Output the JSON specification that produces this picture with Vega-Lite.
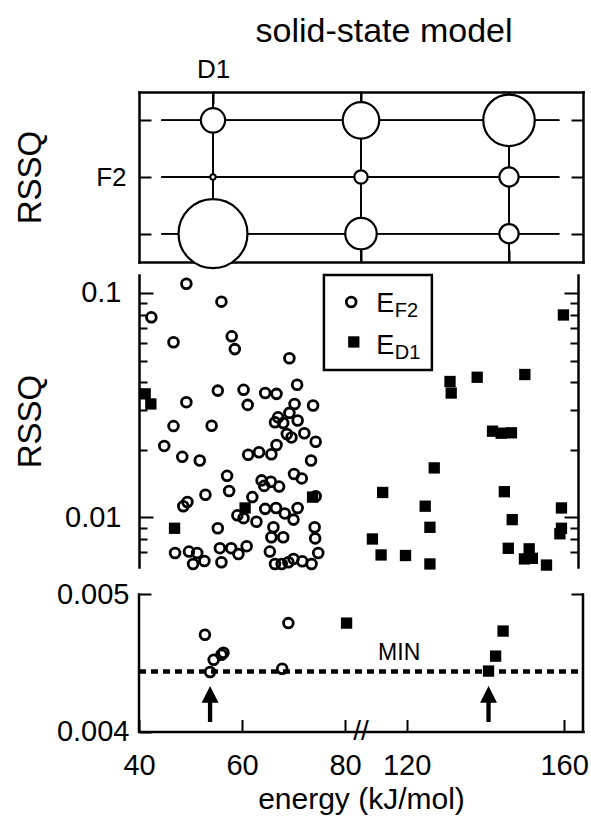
{
  "$schema": "https://vega.github.io/schema/vega-lite/v6.json",
  "padding": {"left": 14, "top": 15, "right": 2, "bottom": 2},
  "spacing": 0,
  "config": {
    "font": "Liberation Sans",
    "view": {"stroke": null},
    "axis": {"grid": false, "domainColor": "black", "domainWidth": 2.5, "domainCap": "square", "tickColor": "black", "tickWidth": 2, "labelColor": "black", "labelFont": "Liberation Sans", "labelFontSize": 29, "titleColor": "black", "titleFont": "Liberation Sans", "titleFontWeight": "normal", "labelOverlap": false, "labelFlush": false},
    "title": {"font": "Liberation Sans", "fontWeight": "normal", "color": "black"}
  },
  "datasets": {
    "grid": [
      {"col": 1, "row": 3, "rel": 5.9}, {"col": 1, "row": 2, "rel": 0.3}, {"col": 1, "row": 1, "rel": 47.5},
      {"col": 2, "row": 3, "rel": 13.3}, {"col": 2, "row": 2, "rel": 1.8}, {"col": 2, "row": 1, "rel": 9.9},
      {"col": 3, "row": 3, "rel": 26.5}, {"col": 3, "row": 2, "rel": 3.7}, {"col": 3, "row": 1, "rel": 3.7}
    ],
    "pts": [
      {"series": "F2", "energy": 49.2, "rssq": 0.110}, {"series": "F2", "energy": 56.0, "rssq": 0.0915},
      {"series": "F2", "energy": 42.4, "rssq": 0.0779}, {"series": "F2", "energy": 46.7, "rssq": 0.0603},
      {"series": "F2", "energy": 58.0, "rssq": 0.0641}, {"series": "F2", "energy": 58.6, "rssq": 0.0562},
      {"series": "F2", "energy": 55.3, "rssq": 0.0367}, {"series": "F2", "energy": 49.2, "rssq": 0.0326},
      {"series": "F2", "energy": 46.7, "rssq": 0.0255}, {"series": "F2", "energy": 54.1, "rssq": 0.0256},
      {"series": "F2", "energy": 44.9, "rssq": 0.0208}, {"series": "F2", "energy": 48.4, "rssq": 0.0186},
      {"series": "F2", "energy": 51.8, "rssq": 0.0179}, {"series": "F2", "energy": 57.1, "rssq": 0.0153},
      {"series": "F2", "energy": 57.5, "rssq": 0.0131}, {"series": "F2", "energy": 52.9, "rssq": 0.0126},
      {"series": "F2", "energy": 49.4, "rssq": 0.0117}, {"series": "F2", "energy": 48.6, "rssq": 0.0112},
      {"series": "F2", "energy": 55.3, "rssq": 0.00893}, {"series": "F2", "energy": 47.0, "rssq": 0.00693},
      {"series": "F2", "energy": 49.7, "rssq": 0.00703}, {"series": "F2", "energy": 51.3, "rssq": 0.00693},
      {"series": "F2", "energy": 50.5, "rssq": 0.00619}, {"series": "F2", "energy": 52.7, "rssq": 0.00638},
      {"series": "F2", "energy": 55.7, "rssq": 0.00728}, {"series": "F2", "energy": 57.9, "rssq": 0.00728},
      {"series": "F2", "energy": 56.0, "rssq": 0.0063}, {"series": "F2", "energy": 59.1, "rssq": 0.0102},
      {"series": "F2", "energy": 69.2, "rssq": 0.0512}, {"series": "F2", "energy": 70.7, "rssq": 0.0390},
      {"series": "F2", "energy": 60.3, "rssq": 0.0370}, {"series": "F2", "energy": 61.1, "rssq": 0.0317},
      {"series": "F2", "energy": 64.5, "rssq": 0.0358}, {"series": "F2", "energy": 66.7, "rssq": 0.0355},
      {"series": "F2", "energy": 70.2, "rssq": 0.0320}, {"series": "F2", "energy": 73.8, "rssq": 0.0315},
      {"series": "F2", "energy": 67.0, "rssq": 0.0279}, {"series": "F2", "energy": 69.2, "rssq": 0.0292},
      {"series": "F2", "energy": 66.4, "rssq": 0.0265}, {"series": "F2", "energy": 68.0, "rssq": 0.0263},
      {"series": "F2", "energy": 70.8, "rssq": 0.0270}, {"series": "F2", "energy": 68.7, "rssq": 0.0235},
      {"series": "F2", "energy": 69.6, "rssq": 0.0227}, {"series": "F2", "energy": 72.1, "rssq": 0.0237},
      {"series": "F2", "energy": 74.3, "rssq": 0.0217}, {"series": "F2", "energy": 66.7, "rssq": 0.0210},
      {"series": "F2", "energy": 61.2, "rssq": 0.0190}, {"series": "F2", "energy": 63.3, "rssq": 0.0195},
      {"series": "F2", "energy": 65.7, "rssq": 0.0191}, {"series": "F2", "energy": 73.4, "rssq": 0.0179},
      {"series": "F2", "energy": 70.1, "rssq": 0.0156}, {"series": "F2", "energy": 71.6, "rssq": 0.0149},
      {"series": "F2", "energy": 63.8, "rssq": 0.0146}, {"series": "F2", "energy": 64.3, "rssq": 0.0138},
      {"series": "F2", "energy": 65.6, "rssq": 0.0144}, {"series": "F2", "energy": 67.2, "rssq": 0.0137},
      {"series": "F2", "energy": 62.0, "rssq": 0.0123}, {"series": "F2", "energy": 64.5, "rssq": 0.0109},
      {"series": "F2", "energy": 66.6, "rssq": 0.0110}, {"series": "F2", "energy": 68.3, "rssq": 0.0104},
      {"series": "F2", "energy": 70.0, "rssq": 0.00976}, {"series": "F2", "energy": 70.8, "rssq": 0.0110},
      {"series": "F2", "energy": 62.8, "rssq": 0.00955}, {"series": "F2", "energy": 60.3, "rssq": 0.00991},
      {"series": "F2", "energy": 66.1, "rssq": 0.00902}, {"series": "F2", "energy": 65.7, "rssq": 0.00814},
      {"series": "F2", "energy": 68.0, "rssq": 0.00814}, {"series": "F2", "energy": 74.1, "rssq": 0.00902},
      {"series": "F2", "energy": 74.2, "rssq": 0.00805}, {"series": "F2", "energy": 74.8, "rssq": 0.00693},
      {"series": "F2", "energy": 65.4, "rssq": 0.00703}, {"series": "F2", "energy": 60.9, "rssq": 0.00743},
      {"series": "F2", "energy": 59.3, "rssq": 0.00686}, {"series": "F2", "energy": 66.4, "rssq": 0.00619},
      {"series": "F2", "energy": 67.7, "rssq": 0.00619}, {"series": "F2", "energy": 69.0, "rssq": 0.0063},
      {"series": "F2", "energy": 70.0, "rssq": 0.00652}, {"series": "F2", "energy": 71.7, "rssq": 0.00636},
      {"series": "F2", "energy": 73.5, "rssq": 0.00619}, {"series": "F2", "energy": 74.3, "rssq": 0.0124},
      {"series": "F2", "energy": 52.8, "rssq": 0.004706}, {"series": "F2", "energy": 54.5, "rssq": 0.004523},
      {"series": "F2", "energy": 56.0, "rssq": 0.00456}, {"series": "F2", "energy": 56.4, "rssq": 0.004575},
      {"series": "F2", "energy": 53.8, "rssq": 0.004434}, {"series": "F2", "energy": 67.8, "rssq": 0.004458},
      {"series": "F2", "energy": 69.0, "rssq": 0.004791},
      {"series": "D1", "energy": 41.2, "rssq": 0.0355}, {"series": "D1", "energy": 42.3, "rssq": 0.0320},
      {"series": "D1", "energy": 46.9, "rssq": 0.00893}, {"series": "D1", "energy": 60.6, "rssq": 0.0110},
      {"series": "D1", "energy": 73.7, "rssq": 0.0123}, {"series": "D1", "energy": 159.8, "rssq": 0.0798},
      {"series": "D1", "energy": 131.0, "rssq": 0.0403}, {"series": "D1", "energy": 131.3, "rssq": 0.0358},
      {"series": "D1", "energy": 137.9, "rssq": 0.0421}, {"series": "D1", "energy": 150.0, "rssq": 0.0433},
      {"series": "D1", "energy": 141.8, "rssq": 0.0242}, {"series": "D1", "energy": 144.0, "rssq": 0.0237},
      {"series": "D1", "energy": 146.6, "rssq": 0.0238}, {"series": "D1", "energy": 127.0, "rssq": 0.0166},
      {"series": "D1", "energy": 113.9, "rssq": 0.0129}, {"series": "D1", "energy": 144.8, "rssq": 0.0130},
      {"series": "D1", "energy": 124.7, "rssq": 0.0112}, {"series": "D1", "energy": 159.3, "rssq": 0.0110},
      {"series": "D1", "energy": 125.9, "rssq": 0.00902}, {"series": "D1", "energy": 146.8, "rssq": 0.00976},
      {"series": "D1", "energy": 111.3, "rssq": 0.0080}, {"series": "D1", "energy": 159.3, "rssq": 0.00893},
      {"series": "D1", "energy": 158.9, "rssq": 0.00844}, {"series": "D1", "energy": 113.5, "rssq": 0.00679},
      {"series": "D1", "energy": 119.7, "rssq": 0.00675}, {"series": "D1", "energy": 125.9, "rssq": 0.00619},
      {"series": "D1", "energy": 145.8, "rssq": 0.00727}, {"series": "D1", "energy": 151.1, "rssq": 0.00723},
      {"series": "D1", "energy": 149.9, "rssq": 0.00652}, {"series": "D1", "energy": 151.9, "rssq": 0.00656},
      {"series": "D1", "energy": 155.5, "rssq": 0.00612},
      {"series": "D1", "energy": 80.3, "rssq": 0.004791}, {"series": "D1", "energy": 144.5, "rssq": 0.004733},
      {"series": "D1", "energy": 142.6, "rssq": 0.00455}, {"series": "D1", "energy": 140.8, "rssq": 0.004441}
    ]
  },
  "vconcat": [
    {
      "width": 444,
      "height": 170,
      "title": {"text": "solid-state model", "fontSize": 34, "fontWeight": "normal", "anchor": "middle", "frame": "group", "dx": 23, "offset": 7},
      "data": {"name": "grid"},
      "resolve": {"axis": {"x": "independent", "y": "independent"}},
      "layer": [
        {
          "mark": {"type": "rule", "color": "black", "strokeWidth": 1.5},
          "encoding": {
            "x": {"field": "col", "type": "quantitative", "scale": {"domain": [0.5, 3.5], "nice": false, "zero": false},
                  "axis": {"orient": "top", "values": [1, 2, 3], "labelExpr": "datum.value == 1 ? 'D1' : ''", "tickSize": -12, "labelPadding": 22, "labelFontSize": 26, "title": null}},
            "y": {"datum": 0.5, "type": "quantitative", "scale": {"domain": [0.5, 3.5], "nice": false, "zero": false}, "axis": null},
            "y2": {"datum": 3.5}
          }
        },
        {
          "mark": {"type": "rule", "color": "black", "strokeWidth": 1.5},
          "encoding": {
            "y": {"field": "row", "type": "quantitative",
                  "axis": {"orient": "left", "values": [1, 2, 3], "labelExpr": "datum.value == 2 ? 'F2' : ''", "tickSize": -12, "labelPadding": 25, "labelFontSize": 26,
                           "title": "RSSQ", "titleFontSize": 33, "titleX": -109, "titleY": 85, "titleAngle": 270, "titleAlign": "center", "titleBaseline": "middle"}},
            "x": {"datum": 0.651, "type": "quantitative", "axis": null},
            "x2": {"datum": 3.34}
          }
        },
        {
          "mark": {"type": "point", "shape": "circle", "filled": true, "fill": "white", "stroke": "black", "strokeWidth": 2.2, "opacity": 1},
          "encoding": {
            "x": {"field": "col", "type": "quantitative", "axis": {"orient": "bottom", "values": [1, 2, 3], "labels": false, "tickSize": -12, "title": null}},
            "y": {"field": "row", "type": "quantitative", "axis": {"orient": "right", "values": [1, 2, 3], "labels": false, "tickSize": -12, "title": null}},
            "size": {"field": "rel", "type": "quantitative", "scale": {"domain": [0, 50], "range": [0, 5000]}, "legend": null}
          }
        }
      ]
    },
    {
      "width": 439,
      "height": 292,
      "data": {"name": "pts"},
      "transform": [{"filter": "datum.rssq > 0.0055"}],
      "resolve": {"axis": {"y": "independent"}},
      "layer": [
        {
          "transform": [{"filter": "datum.series == 'F2'"}],
          "mark": {"type": "point", "shape": "circle", "filled": false, "color": "black", "strokeWidth": 2.8, "size": 95, "opacity": 1},
          "encoding": {
            "x": {"field": "energy", "type": "quantitative",
                  "scale": {"domain": [40, 83.1, 108.4, 163.5], "range": [0, 222, 222, 439], "nice": false, "zero": false},
                  "axis": {"orient": "top", "values": [60, 160], "labels": false, "tickSize": -12, "title": null}},
            "y": {"field": "rssq", "type": "quantitative", "scale": {"type": "log", "domain": [0.006, 0.1203], "nice": false},
                  "axis": {"orient": "left", "values": [0.007, 0.008, 0.009, 0.01, 0.02, 0.03, 0.04, 0.05, 0.06, 0.07, 0.08, 0.09, 0.1],
                           "labelExpr": "datum.value == 0.1 ? '0.1' : (datum.value == 0.01 ? '0.01' : '')",
                           "tickSize": {"condition": {"test": "datum.value == 0.01 || datum.value == 0.1", "value": -14}, "value": -8},
                           "labelPadding": 32,
                           "title": "RSSQ", "titleFontSize": 33, "titleX": -109, "titleY": 146, "titleAngle": 270, "titleAlign": "center", "titleBaseline": "middle"}}
          }
        },
        {
          "transform": [{"filter": "datum.series == 'D1'"}],
          "mark": {"type": "square", "filled": true, "color": "black", "size": 128, "opacity": 1},
          "encoding": {
            "x": {"field": "energy", "type": "quantitative", "axis": null},
            "y": {"field": "rssq", "type": "quantitative",
                  "axis": {"orient": "right", "values": [0.007, 0.008, 0.009, 0.01, 0.02, 0.03, 0.04, 0.05, 0.06, 0.07, 0.08, 0.09, 0.1], "labels": false,
                           "tickSize": {"condition": {"test": "datum.value == 0.01 || datum.value == 0.1", "value": -14}, "value": -8}, "title": null}}
          }
        },
        {
          "data": {"values": [{}]},
          "mark": {"type": "rect", "fill": "white", "stroke": "black", "strokeWidth": 2.5},
          "encoding": {
            "x": {"datum": 75.9, "type": "quantitative", "axis": null},
            "x2": {"datum": 126.4},
            "y": {"datum": 0.1203, "type": "quantitative", "axis": null},
            "y2": {"datum": 0.04535}
          }
        },
        {
          "data": {"values": [{}]},
          "mark": {"type": "point", "shape": "circle", "filled": false, "color": "black", "strokeWidth": 2.8, "size": 95, "opacity": 1},
          "encoding": {
            "x": {"datum": 81.2, "type": "quantitative", "axis": null},
            "y": {"datum": 0.0912, "type": "quantitative", "axis": null}
          }
        },
        {
          "data": {"values": [{}]},
          "mark": {"type": "square", "filled": true, "color": "black", "size": 128, "opacity": 1},
          "encoding": {
            "x": {"datum": 81.7, "type": "quantitative", "axis": null},
            "y": {"datum": 0.0605, "type": "quantitative", "axis": null}
          }
        },
        {
          "data": {"values": [{}]},
          "mark": {"type": "text", "text": "E", "align": "left", "baseline": "middle", "fontSize": 27, "color": "black"},
          "encoding": {
            "x": {"datum": 112.3, "type": "quantitative", "axis": null},
            "y": {"datum": 0.0897, "type": "quantitative", "axis": null}
          }
        },
        {
          "data": {"values": [{}]},
          "mark": {"type": "text", "text": "F2", "align": "left", "baseline": "middle", "fontSize": 20, "color": "black"},
          "encoding": {
            "x": {"datum": 117.0, "type": "quantitative", "axis": null},
            "y": {"datum": 0.0835, "type": "quantitative", "axis": null}
          }
        },
        {
          "data": {"values": [{}]},
          "mark": {"type": "text", "text": "E", "align": "left", "baseline": "middle", "fontSize": 27, "color": "black"},
          "encoding": {
            "x": {"datum": 112.3, "type": "quantitative", "axis": null},
            "y": {"datum": 0.0583, "type": "quantitative", "axis": null}
          }
        },
        {
          "data": {"values": [{}]},
          "mark": {"type": "text", "text": "D1", "align": "left", "baseline": "middle", "fontSize": 20, "color": "black"},
          "encoding": {
            "x": {"datum": 117.0, "type": "quantitative", "axis": null},
            "y": {"datum": 0.0540, "type": "quantitative", "axis": null}
          }
        }
      ]
    },
    {
      "width": 444,
      "height": 156.5,
      "data": {"name": "pts"},
      "transform": [{"filter": "datum.rssq < 0.0055"}],
      "resolve": {"axis": {"x": "independent", "y": "independent"}},
      "layer": [
        {
          "data": {"values": [{}]},
          "mark": {"type": "rule", "color": "black", "strokeWidth": 2.5, "strokeCap": "square"},
          "encoding": {
            "x": {"datum": 40, "type": "quantitative",
                  "scale": {"domain": [40, 83.1, 108.4, 164.8], "range": [0, 222, 222, 444], "nice": false, "zero": false}, "axis": null},
            "y": {"datum": 0.004, "type": "quantitative", "scale": {"domain": [0.004, 0.005142], "nice": false, "zero": false}, "axis": null},
            "y2": {"datum": 0.005}
          }
        },
        {
          "data": {"values": [{}]},
          "mark": {"type": "rule", "color": "black", "strokeWidth": 2.5, "strokeCap": "square"},
          "encoding": {
            "x": {"datum": 164.8, "type": "quantitative", "axis": null},
            "y": {"datum": 0.004, "type": "quantitative", "axis": null},
            "y2": {"datum": 0.005}
          }
        },
        {
          "transform": [{"filter": "datum.series == 'F2'"}],
          "mark": {"type": "point", "shape": "circle", "filled": false, "color": "black", "strokeWidth": 2.8, "size": 95, "opacity": 1},
          "encoding": {
            "x": {"field": "energy", "type": "quantitative",
                  "axis": {"orient": "bottom", "values": [40, 60, 80, 120, 160], "tickSize": -12, "labelPadding": 32,
                           "title": "energy (kJ/mol)", "titleFontSize": 30, "titlePadding": 4}},
            "y": {"field": "rssq", "type": "quantitative",
                  "axis": {"orient": "left", "values": [0.004, 0.005], "format": ".3f", "tickSize": -12, "labelPadding": 22, "domain": false, "title": null}}
          }
        },
        {
          "transform": [{"filter": "datum.series == 'D1'"}],
          "mark": {"type": "square", "filled": true, "color": "black", "size": 128, "opacity": 1},
          "encoding": {
            "x": {"field": "energy", "type": "quantitative", "axis": null},
            "y": {"field": "rssq", "type": "quantitative",
                  "axis": {"orient": "right", "values": [0.005], "labels": false, "tickSize": -12, "domain": false, "title": null}}
          }
        },
        {
          "data": {"values": [{}]},
          "mark": {"type": "rule", "color": "black", "strokeWidth": 4.5, "strokeDash": [7, 5]},
          "encoding": {
            "x": {"datum": 40, "type": "quantitative", "axis": null},
            "x2": {"datum": 164.8},
            "y": {"datum": 0.004438, "type": "quantitative", "axis": null}
          }
        },
        {
          "data": {"values": [{}]},
          "mark": {"type": "text", "text": "MIN", "align": "center", "baseline": "middle", "fontSize": 23, "color": "black"},
          "encoding": {
            "x": {"datum": 118.1, "type": "quantitative", "axis": null},
            "y": {"datum": 0.00457, "type": "quantitative", "axis": null}
          }
        },
        {
          "data": {"values": [{"energy": 53.8}, {"energy": 140.8}]},
          "mark": {"type": "point", "shape": "M0,-1L-0.47,-0.08L-0.12,-0.08L-0.12,1L0.12,1L0.12,-0.08L0.47,-0.08Z", "filled": true, "color": "black", "size": 1296, "opacity": 1},
          "encoding": {
            "x": {"field": "energy", "type": "quantitative", "axis": null},
            "y": {"datum": 0.0042, "type": "quantitative", "axis": null}
          }
        },
        {
          "data": {"values": [{}]},
          "mark": {"type": "text", "text": "//", "align": "center", "baseline": "middle", "fontSize": 28, "color": "black"},
          "encoding": {
            "x": {"datum": 95.5, "type": "quantitative", "axis": null},
            "y": {"datum": 0.004, "type": "quantitative", "axis": null}
          }
        }
      ]
    }
  ]
}
